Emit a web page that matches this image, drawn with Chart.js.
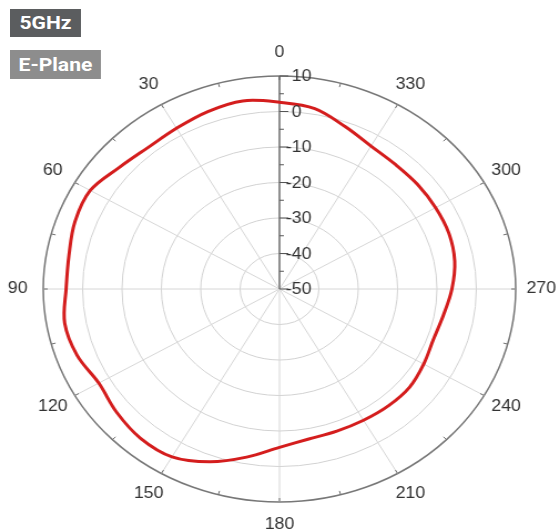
<!DOCTYPE html>
<html>
<head>
<meta charset="utf-8">
<script src="https://cdn.jsdelivr.net/npm/chart.js@4/dist/chart.umd.min.js"></script>
<style>
  body { margin: 0; background: #fff; width: 560px; height: 532px; overflow: hidden; position: relative; }
  /* the source picture is a little wider than tall, so the whole plot is stretched */
  #wrap { position: absolute; left: 0; top: 0; width: 505px; height: 532px; transform: scaleX(1.109); transform-origin: 0 0; }
  .tag { position: absolute; left: 9px; color: #fff; font: bold 19px Roboto, "Liberation Sans", sans-serif; text-align: center; }
  #band { top: 9px; width: 64px; height: 28px; line-height: 28px; background: #5b5d5f; }
  #plane { top: 50px; width: 82px; height: 29px; line-height: 29px; background: #8d8d8d; }
</style>
</head>
<body>
<div id="wrap">
  <canvas id="myChart"></canvas>
  <div class="tag" id="band">5GHz</div>
  <div class="tag" id="plane">E-Plane</div>
</div>
<script>
// angle in degrees, counted anticlockwise from the top like the plot
const angles = [0, 10, 20, 30, 40, 50, 60, 70, 80, 90, 100, 110, 120, 130, 140, 150, 160, 170,
                180, 190, 200, 210, 220, 230, 240, 250, 260, 270, 280, 290, 300, 310, 320, 330, 340, 350];
// gain in dB
const gain = [2.6, 3.8, 3.2, 2.3, 2.0, 3.2, 5.5, 5.3, 4.3, 4.2, 5.4, 4.7, 3.0, 4.0, 4.9, 4.6, 1.8, -1.9,
              -5.4, -7.1, -7.4, -7.3, -7.0, -6.9, -7.7, -8.4, -7.7, -6.2, -4.8, -4.2, -4.2, -4.2, -4.2, -3.5, -1.3, 1.6];
const angleTicks = [0, 30, 60, 90, 120, 150, 180, 210, 240, 270, 300, 330];
const ringTicks = [10, 0, -10, -20, -30, -40, -50];

const step = 10;
// Chart.js walks clockwise, so feed the angles in reverse
const cwAngles = angles.map(a => (360 - a) % 360);
const cwGain = cwAngles.map(a => gain[angles.indexOf(a)]);
const idx = a => ((360 - a) % 360) / step;

const labelFont = '16px "Liberation Sans", Arial, sans-serif';

const polarDecor = {
    id: 'polarDecor',
    beforeDatasetsDraw(chart) {
        const s = chart.scales.r, ctx = chart.ctx;
        const R = s.drawingArea;
        ctx.save();
        ctx.strokeStyle = '#6f6f6f';
        ctx.lineWidth = 1;
        // little ticks on the outer circle
        for (let a = 0; a < 360; a += 15) {
            const p1 = s.getPointPosition(idx(a), R);
            const p2 = s.getPointPosition(idx(a), R - 4);
            ctx.beginPath(); ctx.moveTo(p1.x, p1.y); ctx.lineTo(p2.x, p2.y); ctx.stroke();
        }
        // radial axis
        ctx.strokeStyle = '#555';
        ctx.lineWidth = 1.2;
        const top = s.getPointPosition(0, R);
        ctx.beginPath(); ctx.moveTo(s.xCenter, s.yCenter); ctx.lineTo(top.x, top.y); ctx.stroke();
        ctx.lineWidth = 1;
        ringTicks.forEach(v => {
            const y = s.yCenter - s.getDistanceFromCenterForValue(v);
            ctx.beginPath(); ctx.moveTo(s.xCenter, y); ctx.lineTo(s.xCenter + 8, y); ctx.stroke();
            if (v > -50) {
                const ym = s.yCenter - s.getDistanceFromCenterForValue(v - 5);
                ctx.beginPath(); ctx.moveTo(s.xCenter, ym); ctx.lineTo(s.xCenter + 4, ym); ctx.stroke();
            }
        });
        ctx.restore();
    },
    afterDraw(chart) {
        const s = chart.scales.r, ctx = chart.ctx;
        const R = s.drawingArea;
        ctx.save();
        ctx.font = labelFont;
        ctx.fillStyle = '#333';
        ctx.textAlign = 'center';
        ctx.textBaseline = 'middle';
        angleTicks.forEach(a => {
            const p = s.getPointPosition(idx(a), R + 23);
            ctx.fillText(String(a), p.x, p.y);
        });
        ctx.textAlign = 'left';
        const minusW = ctx.measureText('-').width;
        ringTicks.forEach(v => {
            const y = s.yCenter - s.getDistanceFromCenterForValue(v);
            const x = s.xCenter + 11 - (v < 0 ? minusW : 0);
            ctx.fillText(String(v), x, y + 1);
        });
        ctx.restore();
    }
};

const ctx = document.getElementById('myChart').getContext('2d');
var myChart = new Chart(ctx, {
    type: 'radar',
    data: {
        labels: cwAngles,
        datasets: [{
            label: 'E-Plane',
            data: cwGain,
            borderColor: '#d41d1d',
            borderWidth: 3,
            pointRadius: 0,
            fill: false,
            tension: 0.35
        }]
    },
    options: {
        responsive: true,
        maintainAspectRatio: false,
        animation: false,
        events: [],
        layout: { padding: { left: 39, right: 40, top: 76, bottom: 30 } },
        plugins: { legend: { display: false }, tooltip: { enabled: false } },
        scales: {
            r: {
                min: -50,
                max: 10,
                ticks: { display: false, stepSize: 10 },
                pointLabels: { display: false },
                grid: {
                    circular: true,
                    color: c => (c.tick && c.tick.value === 10) ? '#777' : '#d2d2d2',
                    lineWidth: c => (c.tick && c.tick.value === 10) ? 1.5 : 1
                },
                angleLines: {
                    color: c => (c.index % 3 === 0) ? '#d6d6d6' : 'rgba(0,0,0,0)'
                }
            }
        }
    },
    plugins: [polarDecor]
});
</script>
</body>
</html>
